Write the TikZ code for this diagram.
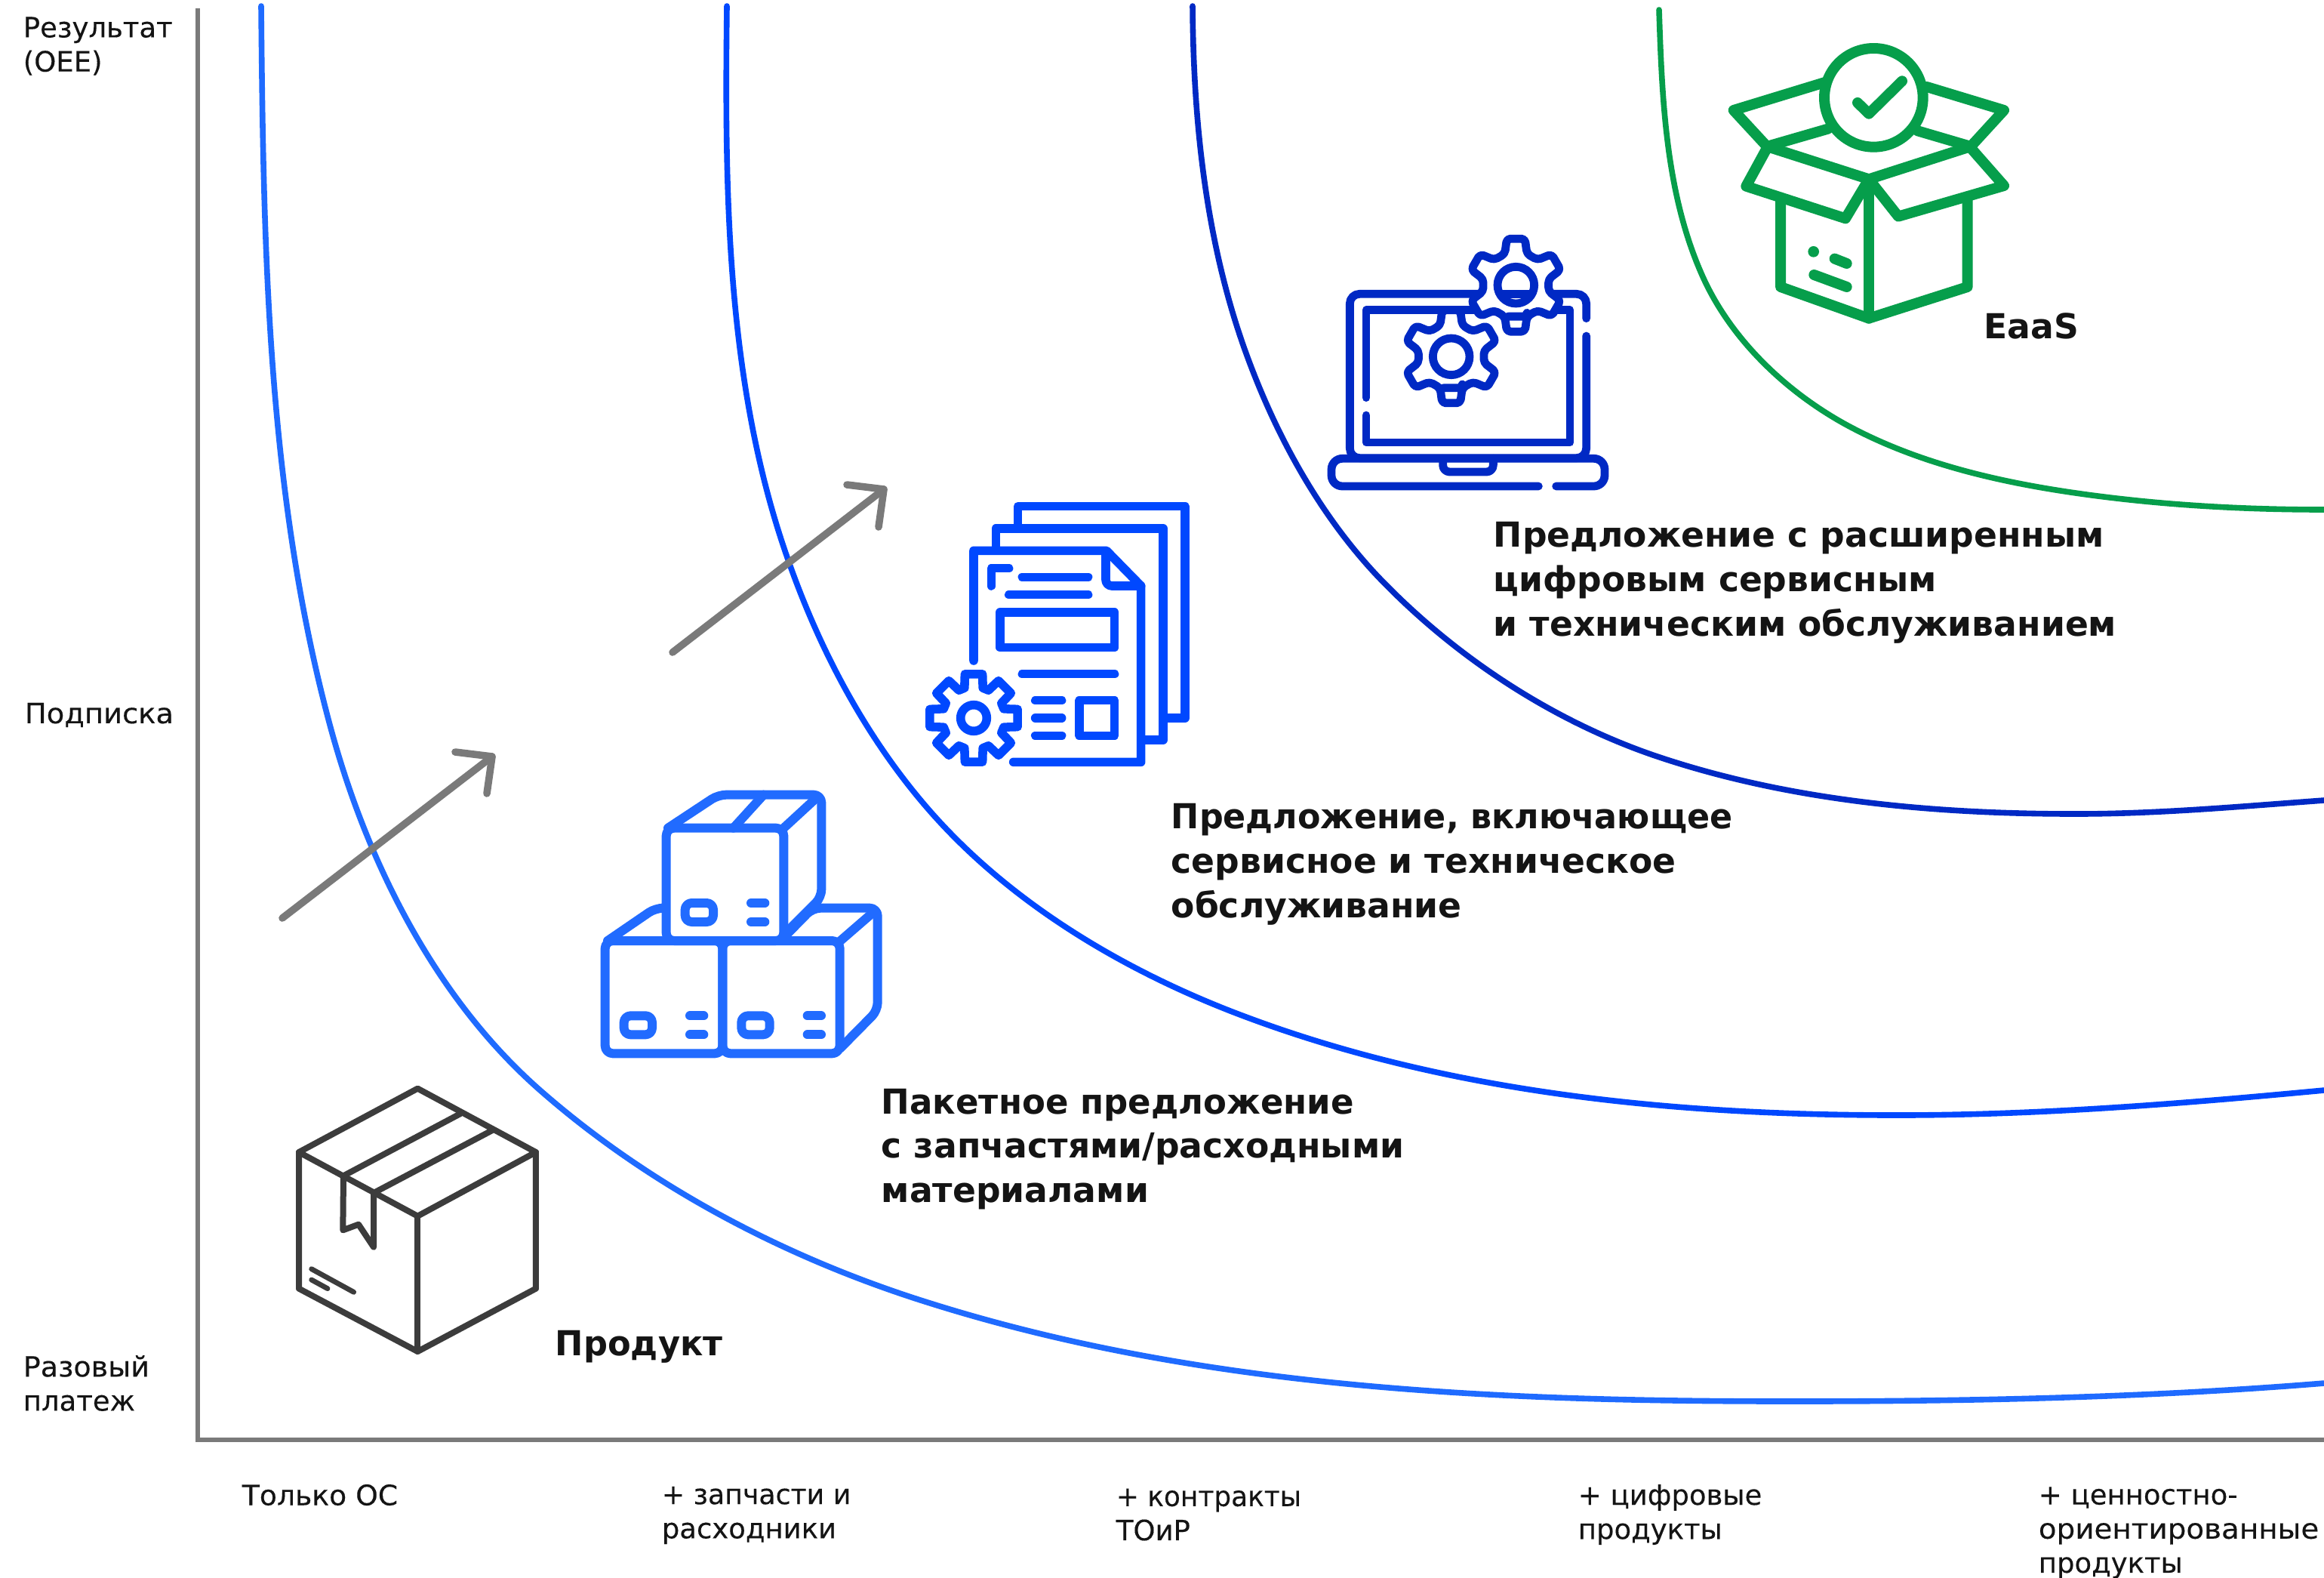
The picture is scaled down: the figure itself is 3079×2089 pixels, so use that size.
\documentclass[tikz,border=0pt]{standalone}
\usepackage{graphicx}
\usepackage{fontspec}
\setmainfont{DejaVu Sans}
\newfontfamily\lblfont[FakeBold=0.25]{DejaVu Sans}
\definecolor{axisgray}{HTML}{7A7A7A}
\definecolor{cOne}{HTML}{1F6BFF}
\definecolor{cTwo}{HTML}{0048FF}
\definecolor{cThree}{HTML}{0029C4}
\definecolor{cFour}{HTML}{069E4B}
\definecolor{icoDark}{HTML}{3C3C3C}
\definecolor{icoOne}{HTML}{216BFF}
\definecolor{icoTwo}{HTML}{0048FF}
\definecolor{icoThree}{HTML}{0029C4}
\tikzset{
  axisline/.style={draw=axisgray,line width=1.5pt,line join=miter},
  curveline/.style={line width=1.9pt,line cap=round,line join=round},
  bigarrow/.style={draw=axisgray,line width=2.4pt,line cap=round,line join=round},
  smalllabel/.style={font=\lblfont\fontsize{9.25}{11.3}\selectfont,align=left,anchor=west,inner sep=0pt,text=black!92},
  biglabel/.style={font=\fontsize{11.4}{14.7}\selectfont\bfseries,align=left,anchor=west,inner sep=0pt,text=black!92},
  icon/.style={line cap=round,line join=round},
}
\begin{document}
\begin{tikzpicture}[x=0.25pt,y=-0.25pt]
\useasboundingbox (0,0) rectangle (3079,2089);
\fill[white] (0,0) rectangle (3079,2089);
% axes
\coordinate (axtop) at (262,11);
\coordinate (axorg) at (262,1907);
\coordinate (axend) at (3079,1907);
\draw[axisline] (axtop) -- (axorg) -- (axend);
% curves
\draw[curveline,cOne] (346,8) .. controls (349,327) and (354,652) .. (437,960)
  .. controls (486,1142) and (577,1324) .. (719,1447)
  .. controls (865,1574) and (1044,1667) .. (1229,1725)
  .. controls (1596,1841) and (1991,1856) .. (2376,1856)
  .. controls (2610,1856) and (2846,1851) .. (3079,1832);
\draw[curveline,cTwo] (963,8) .. controls (960,255) and (962,511) .. (1045,744)
  .. controls (1087,863) and (1148,978) .. (1231,1073)
  .. controls (1341,1199) and (1495,1289) .. (1651,1347)
  .. controls (1924,1449) and (2223,1477) .. (2514,1477)
  .. controls (2700,1477) and (2889,1462) .. (3079,1444);
\draw[curveline,cThree] (1580,8) .. controls (1581,159) and (1597,314) .. (1647,457)
  .. controls (1686,568) and (1744,677) .. (1825,763)
  .. controls (1929,872) and (2064,960) .. (2208,1006)
  .. controls (2381,1062) and (2568,1078) .. (2750,1078)
  .. controls (2860,1078) and (2969,1068) .. (3079,1060);
\draw[curveline,cFour] (2198,13) .. controls (2202,134) and (2207,261) .. (2258,371)
  .. controls (2296,452) and (2367,519) .. (2445,562)
  .. controls (2540,614) and (2650,639) .. (2757,654)
  .. controls (2864,669) and (2972,675) .. (3079,675);
% arrows
\coordinate (a1s) at (374,1216); \coordinate (a1e) at (652,1002);
\coordinate (a1b1) at (603,996); \coordinate (a1b2) at (645,1051);
\draw[bigarrow] (a1s) -- (a1e);
\draw[bigarrow] (a1b1) -- (a1e) -- (a1b2);
\coordinate (a2s) at (891,864); \coordinate (a2e) at (1171,648);
\coordinate (a2b1) at (1122,642); \coordinate (a2b2) at (1164,698);
\draw[bigarrow] (a2s) -- (a2e);
\draw[bigarrow] (a2b1) -- (a2e) -- (a2b2);
% icon: product
\begin{scope}[shift={(360,1420)},x=0.08333pt,y=-0.08333pt,icon,draw=icoDark,line width=2pt]
\draw (580,65) -- (108,318) -- (108,860) -- (580,1110) -- (1050,860) -- (1050,318) -- cycle;
\draw (108,318) -- (580,572) -- (1050,318);
\draw (580,572) -- (580,1110);
\draw (285,412) -- (750,165);
\draw (405,480) -- (875,232);
\draw (285,412) -- (283,628) -- (345,605) -- (405,695) -- (405,480);
\draw[line width=1.7pt] (158,782) -- (326,874);
\draw[line width=1.7pt] (158,825) -- (222,860);
\end{scope}
% icon: boxes
\begin{scope}[shift={(780,1030)},x=0.08333pt,y=-0.08333pt,icon,draw=icoOne,line width=3pt]
\draw[rounded corners=2.6pt] (308,648) rectangle (775,200);
\draw[rounded corners=2.6pt] (65,1096) rectangle (532,648);
\draw[rounded corners=2.6pt] (532,1096) rectangle (998,648);
\draw[rounded corners=2.6pt] (315,200) -- (515,68) -- (925,68) -- (925,475) -- (778,622);
\draw (900,85) -- (775,200);
\draw (575,200) -- (695,68);
\draw[rounded corners=2.6pt] (75,648) -- (265,518) -- (290,518);
\draw[rounded corners=2.6pt] (780,630) -- (890,518) -- (1148,518) -- (1148,925) -- (1000,1075);
\draw (1125,540) -- (998,650);
\foreach \ox/\oy in {0/0,-243/448,224/448}{
  \begin{scope}[shift={(\ox,\oy)}]
  \draw[rounded corners=2.2pt] (383,498) rectangle (495,573);
  \draw (645,498) -- (700,498);
  \draw (645,573) -- (700,573);
  \end{scope}
}
\end{scope}
% icon: documents
\begin{scope}[shift={(1210,650)},x=0.08333pt,y=-0.08333pt,icon,draw=icoTwo,line width=2.9pt]
\draw (416,135) -- (416,62) -- (1080,62) -- (1080,903) -- (1000,903);
\draw (328,222) -- (328,150) -- (993,150) -- (993,990) -- (910,990);
\draw (240,675) -- (240,238) -- (768,238) -- (905,378) -- (905,1078) -- (398,1078);
\draw[rounded corners=2pt] (765,245) -- (765,378) -- (905,378);
\draw (380,308) -- (310,308) -- (310,378);
\draw (433,343) -- (695,343);
\draw (380,413) -- (695,413);
\draw (345,483) rectangle (800,623);
\draw (433,728) -- (800,728);
\draw (485,833) -- (590,833);
\draw (485,903) -- (590,903);
\draw (485,973) -- (590,973);
\draw (660,833) rectangle (800,973);
\begin{scope}[shift={(240,903)}]
\draw (0,0) circle[radius=52];
\draw ({-17}:125) \foreach \a in {0,45,...,315}{ -- ({\a-17}:125) -- ({\a-11.3}:178) -- ({\a+11.3}:178) -- ({\a+17}:125)} -- cycle;
\end{scope}
\end{scope}
% icon: laptop
\begin{scope}[shift={(1740,290)},x=0.08333pt,y=-0.08333pt,icon,draw=icoThree,line width=2.7pt]
\draw[rounded corners=3.2pt] (1085,395) -- (1085,298) -- (145,298) -- (145,950) -- (1085,950) -- (1085,465);
\draw (210,710) -- (210,362) -- (1020,362) -- (1020,888) -- (210,888) -- (210,780);
\draw[rounded corners=3.6pt] (895,1062) -- (72,1062) -- (72,952) -- (1158,952) -- (1158,1062) -- (965,1062);
\draw[rounded corners=2.2pt] (515,952) -- (515,1005) -- (715,1005) -- (715,952);
\begin{scope}[shift={(548,547)}]
\draw[rounded corners=1.2pt,fill=white] ({90-19.5}:132) \foreach \a in {90,150,...,450}{ -- ({\a-19.5}:132) -- ({\a-11}:188) -- ({\a+11}:188) -- ({\a+19.5}:132)} -- cycle;
\draw (0,0) circle[radius=73];
\end{scope}
\begin{scope}[shift={(805,263)}]
\draw[rounded corners=1.2pt,fill=white] ({90-19.5}:132) \foreach \a in {90,150,...,450}{ -- ({\a-19.5}:132) -- ({\a-11}:188) -- ({\a+11}:188) -- ({\a+19.5}:132)} -- cycle;
\draw (0,0) circle[radius=73];
\draw[line cap=butt] (-55,35) -- (55,35);
\end{scope}
\end{scope}
% icon: open box
\begin{scope}[shift={(2270,40)},x=0.08333pt,y=-0.08333pt,icon,draw=cFour,line width=3.5pt]
\draw (637,268) circle[radius=196];
\draw (440,208) -- (80,318) -- (213,462) -- (455,392);
\draw (848,225) -- (1155,318) -- (1023,462) -- (812,400);
\draw (213,462) -- (618,592) -- (1023,462);
\draw (213,468) -- (130,620) -- (525,748) -- (618,592);
\draw (1023,468) -- (1155,618) -- (735,740) -- (618,592);
\draw (267,672) -- (267,1020) -- (618,1145) -- (1010,1020) -- (1010,662);
\draw (618,600) -- (618,1145);
\fill[cFour] (398,880) circle[radius=22];
\draw (482,908) -- (530,927);
\draw (400,972) -- (530,1020);
\draw (750,202) -- (618,332) -- (573,288);
\end{scope}
% axis labels
\node[smalllabel] (ylabA) at (30,61) {Результат\\(OEE)};
\node[smalllabel] (ylabB) at (32,947) {\scalebox{1.04}[1]{Подписка}};
\node[smalllabel] (ylabC) at (30,1832) {\scalebox{1.03}[1]{Разовый}\\платеж};
\node[smalllabel] (xlabA) at (320,1980) {\scalebox{1.02}[1]{Только ОС}};
\node[smalllabel] (xlabB) at (876,2007) {\scalebox{0.98}[1]{+ запчасти и}\\расходники};
\node[smalllabel] (xlabC) at (1478,2006) {\scalebox{0.97}[1]{+ контракты}\\ТОиР};
\node[smalllabel] (xlabD) at (2090,2006) {+ цифровые\\продукты};
\node[smalllabel] (xlabE) at (2700,2030) {+ ценностно-\\\scalebox{1.05}[1]{ориентированные}\\продукты};
% offering labels
\node[biglabel] (offA) at (735,1784) {\scalebox{0.98}[1]{Продукт}};
\node[biglabel] (offB) at (1167,1522) {\scalebox{0.987}[1]{Пакетное предложение}\\с запчастями/расходными\\материалами};
\node[biglabel] (offC) at (1551,1145) {\scalebox{0.974}[1]{Предложение, включающее}\\сервисное и техническое\\обслуживание};
\node[biglabel] (offD) at (1978,772) {Предложение с расширенным\\цифровым сервисным\\и техническим обслуживанием};
\node[biglabel] (offE) at (2628,432) {EaaS};
\end{tikzpicture}
\end{document}
